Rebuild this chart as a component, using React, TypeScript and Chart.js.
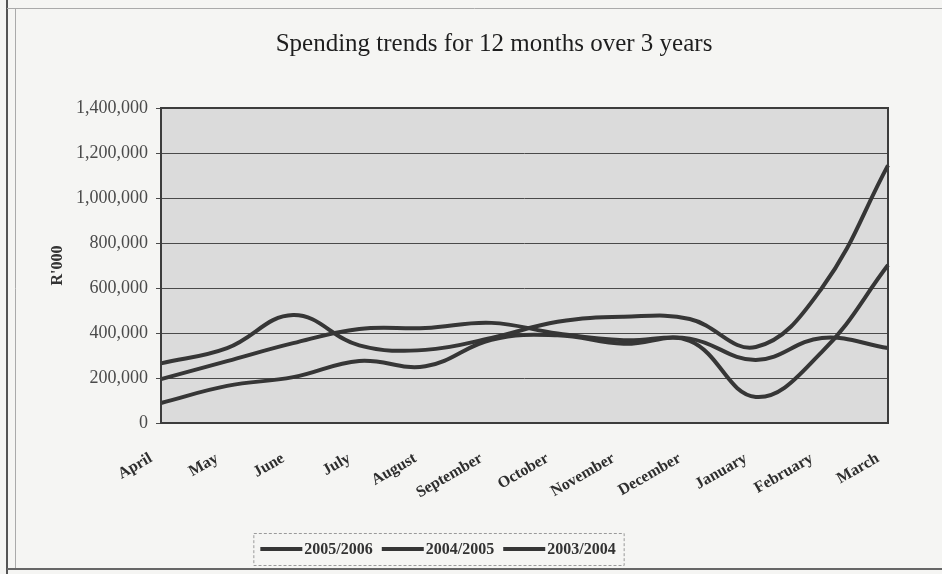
import React, { useEffect, useRef } from 'react';
import { Chart, registerables } from 'chart.js';

Chart.register(...registerables);

const months = ['April', 'May', 'June', 'July', 'August', 'September', 'October', 'November', 'December', 'January', 'February', 'March'];
const values2005_2006 = [265000, 333000, 480000, 345000, 325000, 378000, 450000, 472000, 462000, 338000, 600000, 1145000];
const values2004_2005 = [89000, 165000, 204000, 276000, 252000, 370000, 390000, 352000, 365000, 116000, 316000, 702000];
const values2003_2004 = [195000, 275000, 355000, 418000, 422000, 445000, 398000, 368000, 375000, 280000, 378000, 333000];
const seriesLabels = ['2005/2006', '2004/2005', '2003/2004'];
const yTickValues = [0, 200000, 400000, 600000, 800000, 1000000, 1200000, 1400000];
const chartTitle = 'Spending trends for 12 months over 3 years';
const yAxisTitle = "R'000";

const SERIF = '"Liberation Serif", "Times New Roman", serif';
const LINE_COLOR = '#363636';

const decor = {
  id: 'decor',
  beforeDraw(chart: any) {
    const { ctx, chartArea: a, width, height } = chart;
    ctx.save();
    ctx.fillStyle = '#f5f5f3';
    ctx.fillRect(0, 0, width, height);
    ctx.fillStyle = '#dbdbdb';
    ctx.fillRect(a.left, a.top, a.right - a.left, a.bottom - a.top);
    // outer frame
    ctx.strokeStyle = '#555';
    ctx.lineWidth = 2;
    ctx.beginPath();
    ctx.moveTo(7, 0);
    ctx.lineTo(7, height);
    ctx.stroke();
    ctx.strokeStyle = '#aaa';
    ctx.lineWidth = 1;
    ctx.beginPath();
    ctx.moveTo(15.5, 9);
    ctx.lineTo(15.5, 568);
    ctx.moveTo(7, 8.5);
    ctx.lineTo(width, 8.5);
    ctx.stroke();
    ctx.strokeStyle = '#666';
    ctx.lineWidth = 2;
    ctx.beginPath();
    ctx.moveTo(7, 569);
    ctx.lineTo(width, 569);
    ctx.stroke();
    // title
    ctx.fillStyle = '#1e1e1e';
    ctx.font = `25px ${SERIF}`;
    ctx.textAlign = 'center';
    ctx.textBaseline = 'middle';
    ctx.fillText(chartTitle, 494, 44);
    ctx.restore();
  },
  afterDraw(chart: any) {
    const { ctx, chartArea: a } = chart;
    ctx.save();
    ctx.strokeStyle = '#3c3c3c';
    ctx.lineWidth = 2;
    ctx.strokeRect(a.left, a.top, a.right - a.left, a.bottom - a.top);
    // legend
    ctx.font = `bold 16px ${SERIF}`;
    const lineLen = 42;
    const gapLT = 2;
    const gapItem = 9;
    const items = chart.data.datasets.map((d: any) => ({ label: d.label, w: ctx.measureText(d.label).width, color: d.borderColor }));
    const total = items.reduce((s: number, it: any) => s + lineLen + gapLT + it.w, 0) + gapItem * (items.length - 1);
    const cx = 438;
    const boxL = cx - total / 2 - 7;
    const boxR = cx + total / 2 + 8;
    const boxT = 533;
    const boxB = 565;
    ctx.strokeStyle = '#9a9a9a';
    ctx.lineWidth = 1;
    ctx.setLineDash([3, 2]);
    ctx.strokeRect(boxL + 0.5, boxT + 0.5, boxR - boxL, boxB - boxT);
    ctx.setLineDash([]);
    let x = cx - total / 2;
    const y = (boxT + boxB) / 2;
    ctx.textAlign = 'left';
    ctx.textBaseline = 'middle';
    items.forEach((it: any) => {
      ctx.strokeStyle = it.color;
      ctx.lineWidth = 4;
      ctx.beginPath();
      ctx.moveTo(x, y);
      ctx.lineTo(x + lineLen, y);
      ctx.stroke();
      x += lineLen + gapLT;
      ctx.fillStyle = '#333';
      ctx.fillText(it.label, x, y + 1);
      x += it.w + gapItem;
    });
    ctx.restore();
  },
};

export default function App() {
  const ref = useRef<HTMLCanvasElement>(null);
  useEffect(() => {
    const mk = (label: string, data: number[]) => ({
      label,
      data,
      borderColor: LINE_COLOR,
      backgroundColor: LINE_COLOR,
      borderWidth: 4,
      pointRadius: 0,
      tension: 0.4,
      fill: false,
    });
    const chart = new Chart(ref.current as HTMLCanvasElement, {
      type: 'line',
      data: {
        labels: months,
        datasets: [
          mk(seriesLabels[0], values2005_2006),
          mk(seriesLabels[1], values2004_2005),
          mk(seriesLabels[2], values2003_2004),
        ],
      },
      options: {
        responsive: false,
        animation: false,
        devicePixelRatio: 1,
        layout: { padding: { top: 108, left: 40, right: 54, bottom: 0 } },
        plugins: {
          legend: { display: false },
          title: { display: false },
          tooltip: { enabled: false },
        },
        scales: {
          x: {
            offset: false,
            grid: { display: false },
            border: { display: false },
            ticks: {
              autoSkip: false,
              minRotation: 30,
              maxRotation: 30,
              padding: 18,
              labelOffset: -10,
              color: '#2e2e2e',
              font: { family: SERIF, size: 16, weight: 'bold' },
            },
            afterFit: (s: any) => {
              s.height = 574 - 423;
            },
          },
          y: {
            min: 0,
            max: 1400000,
            afterBuildTicks: (s: any) => {
              s.ticks = yTickValues.map((v) => ({ value: v }));
            },
            grid: { color: '#4a4a4a', lineWidth: 1, tickLength: 5, drawTicks: true },
            border: { display: false },
            ticks: {
              padding: 8,
              color: '#4a4a4a',
              font: { family: SERIF, size: 18 },
              callback: (v: any) => Number(v).toLocaleString('en-US'),
            },
            title: {
              display: true,
              text: yAxisTitle,
              color: '#333',
              font: { family: SERIF, size: 16, weight: 'bold' },
              padding: { top: 8, bottom: 0 },
            },
            afterFit: (s: any) => {
              s.width = 161 - 40;
            },
          },
        },
      },
      plugins: [decor],
    });
    return () => chart.destroy();
  }, []);
  return (
    <div style={{ position: 'absolute', left: 0, top: 0, width: 942, height: 574, background: '#f5f5f3' }}>
      <canvas ref={ref} width={942} height={574} style={{ display: 'block', width: 942, height: 574 }} />
    </div>
  );
}
